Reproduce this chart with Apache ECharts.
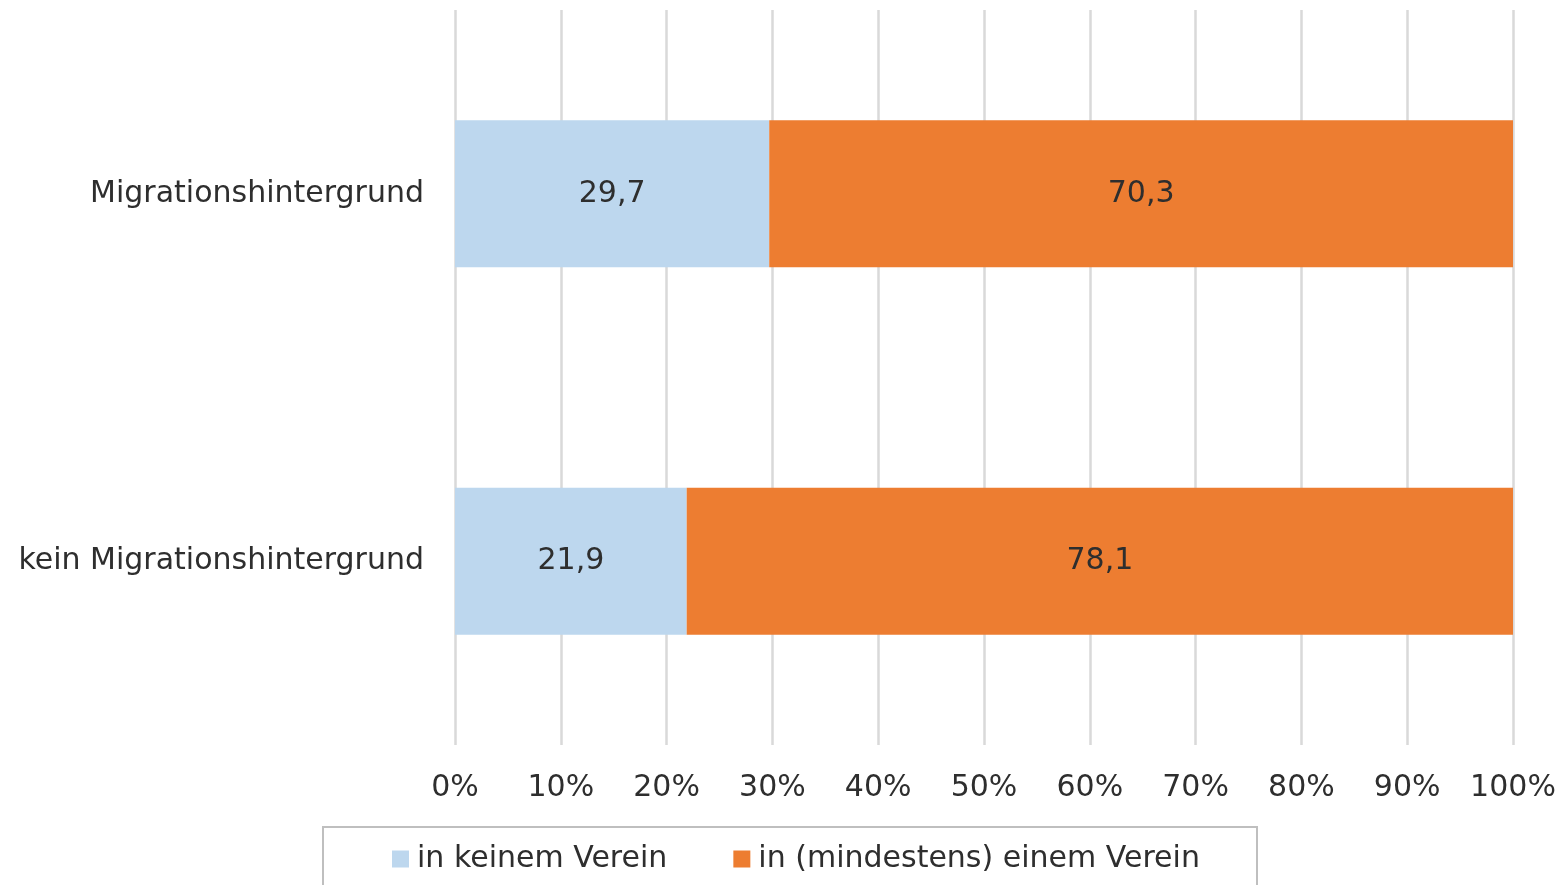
<!DOCTYPE html>
<html>
<head>
<meta charset="utf-8">
<script src="https://cdn.jsdelivr.net/npm/echarts@6/dist/echarts.min.js"></script>
<style>
  html, body { margin: 0; padding: 0; background: #fff; }
  #chart { width: 1560px; height: 885px; }
</style>
</head>
<body>
<div id="chart"></div>
<script>
// Vereinsmitgliedschaft nach Migrationshintergrund (Anteile in %)
const categories = ['Migrationshintergrund', 'kein Migrationshintergrund'];
const seriesNames = ['in keinem Verein', 'in (mindestens) einem Verein'];
const keinVerein = [29.7, 21.9];
const einVerein = [70.3, 78.1];
const xTicks = [0, 10, 20, 30, 40, 50, 60, 70, 80, 90, 100];

const FONT = '"DejaVu Sans", sans-serif';
const TEXT = '#2e2e2e';
const FS = 30;

const fmt = v => v.toFixed(1).replace('.', ',');

const chart = echarts.init(document.getElementById('chart'), null, { renderer: 'canvas' });

chart.setOption({
  animation: false,
  backgroundColor: '#ffffff',
  textStyle: { fontFamily: FONT },
  grid: { left: 455, right: 47, top: 10, bottom: 140, containLabel: false },
  xAxis: {
    type: 'value',
    min: xTicks[0],
    max: xTicks[xTicks.length - 1],
    interval: 10,
    axisLine: { show: false },
    axisTick: { show: false },
    splitLine: { show: true, lineStyle: { color: '#d9d9d9', width: 2.5 } },
    axisLabel: {
      formatter: v => v + '%',
      color: TEXT,
      fontSize: FS,
      fontFamily: FONT,
      margin: 28
    }
  },
  yAxis: {
    type: 'category',
    data: categories,
    inverse: true,
    axisLine: { show: false },
    axisTick: { show: false },
    axisLabel: { color: TEXT, fontSize: FS, fontFamily: FONT, margin: 31 }
  },
  legend: {
    left: 387,
    top: 839,
    itemWidth: 17,
    itemHeight: 17,
    itemGap: 66,
    icon: 'rect',
    textStyle: { color: TEXT, fontSize: FS, fontFamily: FONT, padding: [0, 0, 0, 3] },
    data: seriesNames
  },
  graphic: [{
    type: 'rect',
    shape: { x: 323, y: 827, width: 934, height: 80 },
    style: { fill: 'none', stroke: '#bfbfbf', lineWidth: 2 },
    silent: true
  }],
  series: [
    {
      name: seriesNames[0],
      type: 'bar',
      stack: 'total',
      barWidth: 147,
      itemStyle: { color: '#bdd7ee' },
      label: { show: true, position: 'inside', formatter: p => fmt(p.value), color: TEXT, fontSize: FS, fontFamily: FONT },
      data: keinVerein
    },
    {
      name: seriesNames[1],
      type: 'bar',
      stack: 'total',
      barWidth: 147,
      itemStyle: { color: '#ed7d31' },
      label: { show: true, position: 'inside', formatter: p => fmt(p.value), color: TEXT, fontSize: FS, fontFamily: FONT },
      data: einVerein
    }
  ]
});
</script>
</body>
</html>
